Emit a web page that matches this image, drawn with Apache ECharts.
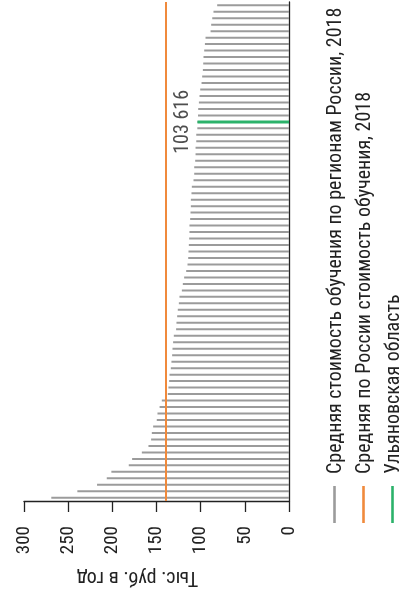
<!DOCTYPE html>
<html>
<head>
<meta charset="utf-8">
<script src="https://cdn.jsdelivr.net/npm/echarts@6/dist/echarts.min.js"></script>
<style>
html,body{margin:0;padding:0;background:#ffffff;}
#chart{width:401px;height:595px;}
</style>
</head>
<body>
<div id="chart"></div>
<script>
// Regions ranked by average tuition cost (top of picture -> bottom), thousand roubles per year, 2018
const regionRanks = [
  'Регион 1','Регион 2','Регион 3','Регион 4','Регион 5','Регион 6','Регион 7','Регион 8','Регион 9','Регион 10',
  'Регион 11','Регион 12','Регион 13','Регион 14','Регион 15','Регион 16','Регион 17','Регион 18','Ульяновская область','Регион 20',
  'Регион 21','Регион 22','Регион 23','Регион 24','Регион 25','Регион 26','Регион 27','Регион 28','Регион 29','Регион 30',
  'Регион 31','Регион 32','Регион 33','Регион 34','Регион 35','Регион 36','Регион 37','Регион 38','Регион 39','Регион 40',
  'Регион 41','Регион 42','Регион 43','Регион 44','Регион 45','Регион 46','Регион 47','Регион 48','Регион 49','Регион 50',
  'Регион 51','Регион 52','Регион 53','Регион 54','Регион 55','Регион 56','Регион 57','Регион 58','Регион 59','Регион 60',
  'Регион 61','Регион 62','Регион 63','Регион 64','Регион 65','Регион 66','Регион 67','Регион 68','Регион 69','Регион 70',
  'Регион 71','Регион 72','Регион 73','Регион 74','Регион 75','Регион 76','Регион 77'
];
const regionCosts = [
  81.3, 85.5, 86.9, 88.1, 88.8, 94.5, 95.2, 96.0, 96.8, 97.1,
  97.5, 98.3, 99.0, 100.5, 101.3, 102.0, 102.8, 103.0, 103.616, 103.8,
  105.0, 105.0, 105.8, 105.8, 106.2, 107.3, 107.3, 108.1, 110.0, 110.4,
  111.1, 111.1, 111.5, 111.9, 112.7, 112.7, 113.0, 113.4, 113.8, 114.1,
  114.9, 116.4, 118.7, 120.2, 121.3, 124.0, 124.7, 125.9, 126.6, 127.4,
  127.8, 130.4, 131.2, 131.9, 132.3, 133.1, 133.8, 135.3, 135.7, 136.5,
  137.2, 144.0, 146.5, 148.9, 149.7, 153.8, 155.3, 156.1, 159.1, 166.6,
  177.6, 181.4, 201.1, 206.3, 217.3, 239.6, 269.1
];
const russiaAverage = 139.5;
const highlightRegion = 'Ульяновская область';
const axisMin = 0;
const axisMax = 300;
const axisStep = 50;
const axisTitle = 'Тыс. руб. в год';
const legendLabels = [
  'Средняя стоимость обучения по регионам России, 2018',
  'Средняя по России стоимость обучения, 2018',
  'Ульяновская область'
];

const FONT = '"Roboto Condensed", "Liberation Sans", sans-serif';
const GRAY = '#9b9b9b';
const ORANGE = '#f08a3c';
const GREEN = '#2bb26a';
const INK = '#222222';
const legendColors = [GRAY, ORANGE, GREEN];

const highlightIndex = regionRanks.indexOf(highlightRegion);
const highlightValue = regionCosts[highlightIndex];
const highlightBars = regionCosts.map((v, i) => i === highlightIndex ? v : '-');

function fmtRub(v) {
  const s = String(Math.round(v * 1000));
  return s.replace(/\B(?=(\d{3})+(?!\d))/g, ' ');
}

const chart = echarts.init(document.getElementById('chart'), null, {renderer: 'canvas'});

const legendGraphics = [];
const legendX = [334.5, 363.5, 392.5];
legendLabels.forEach((txt, i) => {
  legendGraphics.push({
    type: 'line',
    shape: {x1: legendX[i], y1: 486, x2: legendX[i], y2: 523},
    style: {stroke: legendColors[i], lineWidth: 2.6},
    silent: true
  });
  legendGraphics.push({
    type: 'text',
    x: legendX[i] + 1.5, y: 474,
    rotation: Math.PI / 2,
    style: {
      text: txt, fill: INK, font: '20px ' + FONT,
      textAlign: 'left', textVerticalAlign: 'middle'
    },
    silent: true
  });
});
legendGraphics.push({
  type: 'text',
  x: 137.5, y: 577,
  rotation: Math.PI,
  style: {
    text: axisTitle, fill: INK, font: '20px ' + FONT,
    textAlign: 'center', textVerticalAlign: 'middle'
  },
  silent: true
});

chart.setOption({
  animation: false,
  backgroundColor: '#ffffff',
  grid: {left: 24, right: 112, top: 2, bottom: 94, containLabel: false},
  xAxis: {
    type: 'value',
    inverse: true,
    min: axisMin, max: axisMax, interval: axisStep,
    position: 'bottom',
    axisLine: {show: true, lineStyle: {color: INK, width: 1.3}},
    axisTick: {show: true, length: 11, lineStyle: {color: INK, width: 1.3}},
    splitLine: {show: false},
    axisLabel: {rotate: 90, margin: 25, fontSize: 19, color: INK, fontFamily: FONT}
  },
  yAxis: [
    {
      type: 'category', data: regionRanks, inverse: true, position: 'right',
      axisLine: {show: true, onZero: false, lineStyle: {color: INK, width: 1.3}},
      axisTick: {show: false}, axisLabel: {show: false}, splitLine: {show: false}
    },
    {
      type: 'category', data: regionRanks, inverse: true, position: 'right', show: false
    }
  ],
  series: [
    {
      name: legendLabels[0], type: 'bar', yAxisIndex: 0, data: regionCosts, barWidth: 2,
      itemStyle: {color: GRAY}, silent: true,
      markLine: {
        silent: true, symbol: 'none', label: {show: false},
        lineStyle: {color: ORANGE, width: 2, type: 'solid'},
        data: [{name: legendLabels[1], xAxis: russiaAverage}]
      }
    },
    {
      name: legendLabels[2], type: 'bar', yAxisIndex: 1, data: highlightBars, barWidth: 3,
      itemStyle: {color: GREEN}, silent: true, z: 3
    },
    {
      name: 'label', type: 'scatter', yAxisIndex: 1,
      data: [[highlightValue, highlightRegion]],
      symbol: 'circle', symbolSize: 1, itemStyle: {color: 'rgba(0,0,0,0)'}, silent: true, z: 4,
      label: {
        show: true, formatter: p => fmtRub(p.value[0]),
        position: 'left', distance: 14, rotate: 90, align: 'center', verticalAlign: 'middle',
        fontSize: 20, fontFamily: FONT, color: INK
      }
    }
  ],
  graphic: legendGraphics
});
</script>
</body>
</html>
